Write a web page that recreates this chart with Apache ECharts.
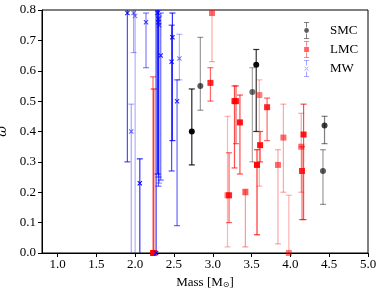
<!DOCTYPE html>
<html>
<head>
<meta charset="utf-8">
<script src="https://cdn.jsdelivr.net/npm/echarts@6/dist/echarts.min.js"></script>
<style>html,body{margin:0;padding:0;background:#fff}#c{width:382px;height:291px}</style>
</head>
<body>
<div id="c"></div>
<script>
// ---- data ----
const smcMass  = [2.73, 2.84, 3.51, 3.56, 4.44, 4.42];
const smcOmega = [0.40, 0.55, 0.53, 0.62, 0.42, 0.27];
const smcLow   = [0.29, 0.47, 0.30, 0.40, 0.36, 0.16];
const smcHigh  = [0.54, 0.71, 0.61, 0.67, 0.45, 0.34];
const smcAlpha = [0.85, 0.4, 0.35, 0.8, 0.5, 0.4];

const lmcMass  = [2.23, 2.24, 2.99, 2.97, 3.19, 3.21, 3.28, 3.30, 3.35, 3.42, 3.60, 3.57, 3.61, 3.70, 3.91, 3.84, 3.98, 4.14, 4.17, 4.15];
const lmcOmega = [0.00, 0.00, 0.79, 0.56, 0.19, 0.19, 0.50, 0.50, 0.43, 0.20, 0.52, 0.29, 0.355, 0.48, 0.38, 0.29, 0.00, 0.35, 0.39, 0.27];
const lmcLow   = [-0.05, -0.05, 0.63, 0.50, 0.02, 0.10, 0.28, 0.36, 0.26, 0.02, 0.22, 0.06, 0.30, 0.37, 0.20, 0.03, -0.05, 0.20, 0.11, 0.11];
const lmcHigh  = [0.58, 0.54, 0.85, 0.61, 0.45, 0.33, 0.55, 0.55, 0.52, 0.21, 0.57, 0.34, 0.40, 0.51, 0.49, 0.34, 0.19, 0.46, 0.49, 0.35];
const lmcAlpha = [0.6, 0.8, 0.35, 0.6, 0.3, 0.6, 0.7, 0.6, 0.7, 0.4, 0.3, 0.8, 0.7, 0.6, 0.35, 0.35, 0.3, 0.35, 0.7, 0.6];

const mwMass  = [1.90, 1.98, 2.00, 1.95, 2.14, 2.06, 2.29, 2.30, 2.30, 2.31, 2.33, 2.27, 2.48, 2.47, 2.57, 2.54];
const mwOmega = [0.79, 0.79, 0.78, 0.40, 0.76, 0.23, 0.79, 0.77, 0.76, 0.75, 0.65, 0.00, 0.71, 0.63, 0.64, 0.50];
const mwLow   = [0.30, 0.66, -0.05, -0.05, 0.61, -0.05, 0.26, 0.25, 0.22, 0.23, 0.24, -0.05, 0.37, 0.27, 0.57, 0.09];
const mwHigh  = [0.85, 0.85, 0.85, 0.49, 0.79, 0.31, 0.85, 0.85, 0.80, 0.78, 0.79, 0.85, 0.79, 0.75, 0.72, 0.57];
const mwAlpha = [0.7, 0.35, 0.3, 0.35, 0.5, 0.8, 0.8, 0.6, 0.6, 0.4, 0.6, 0.8, 0.8, 0.7, 0.3, 0.6];

const xTicks = [1.0, 1.5, 2.0, 2.5, 3.0, 3.5, 4.0, 4.5, 5.0];

// ---- helpers ----
const FONT = 'Liberation Serif';
function errData(m, lo, hi, a) { return m.map((v, i) => [v, lo[i], hi[i], a[i]]); }
function ptData(m, w, a) {
  return m.map((v, i) => ({ value: [v, w[i]], itemStyle: { opacity: 1 - Math.pow(1 - a[i], 2) } }));
}
function errRender(color) {
  return function (params, api) {
    const x = api.value(0), lo = api.value(1), hi = api.value(2), a = api.value(3);
    const p1 = api.coord([x, lo]), p2 = api.coord([x, hi]);
    const cw = 3;
    const style = { stroke: color, lineWidth: 1.2, opacity: a, fill: null };
    return {
      type: 'group',
      children: [
        { type: 'line', shape: { x1: p1[0], y1: p1[1], x2: p2[0], y2: p2[1] }, style: style },
        { type: 'line', shape: { x1: p1[0] - cw, y1: p1[1], x2: p1[0] + cw, y2: p1[1] }, style: style },
        { type: 'line', shape: { x1: p2[0] - cw, y1: p2[1], x2: p2[0] + cw, y2: p2[1] }, style: style }
      ]
    };
  };
}
const barPart = 'M2 0 H8 V0.8 H2 Z M4.55 0.8 H5.45 V6.5 H4.55 Z M4.55 13.5 H5.45 V19.2 H4.55 Z M2 19.2 H8 V20 H2 Z ';
const iconSMC = 'path://' + barPart + 'M2.2 10 A2.8 2.8 0 1 1 7.8 10 A2.8 2.8 0 1 1 2.2 10 Z';
const iconLMC = 'path://' + barPart + 'M2.2 7.2 H7.8 V12.8 H2.2 Z';
const iconMW  = 'path://' + barPart + 'M2.5 8 L3 7.5 L7.5 12 L7 12.5 Z M2.5 12 L3 12.5 L7.5 8 L7 7.5 Z';
const xSym = 'path://M0 1.5 L1.5 0 L10 8.5 L8.5 10 Z M1.5 10 L0 8.5 L8.5 0 L10 1.5 Z';

const chart = echarts.init(document.getElementById('c'), null, { renderer: 'canvas' });
chart.setOption({
  animation: false,
  backgroundColor: '#fff',
  textStyle: { fontFamily: FONT },
  grid: { left: 42, right: 14, top: 10, bottom: 38, show: true, borderColor: '#000', borderWidth: 1, outerBoundsMode: 'none', containLabel: false },
  legend: {
    orient: 'vertical', left: 299, top: 17,
    itemWidth: 9, itemHeight: 17, itemGap: 2,
    textStyle: { fontFamily: FONT, fontSize: 13, color: '#000', padding: [0, 0, 0, 14] },
    data: [
      { name: 'SMC', icon: iconSMC, itemStyle: { color: '#333' } },
      { name: 'LMC', icon: iconLMC, itemStyle: { color: '#ff3b3b' } },
      { name: 'MW', icon: iconMW, itemStyle: { color: '#6e6eff' } }
    ]
  },
  xAxis: {
    type: 'value', min: 0.8, max: 5.0,
    name: 'Mass [M{s|⊙}]', nameLocation: 'middle', nameGap: 19,
    nameTextStyle: { fontFamily: FONT, fontSize: 13, color: '#000', rich: { s: { fontFamily: 'DejaVu Sans', fontSize: 8, color: '#000', verticalAlign: 'bottom', padding: [6, 0, 0, 0] } } },
    axisLine: { show: true, lineStyle: { color: '#000', width: 1 } },
    axisTick: { show: true, length: 4, lineStyle: { color: '#000' }, customValues: xTicks },
    axisLabel: { margin: 5, fontFamily: FONT, fontSize: 13, color: '#000', customValues: xTicks, formatter: v => v.toFixed(1) },
    splitLine: { show: false }
  },
  yAxis: {
    type: 'value', min: 0, max: 0.8, interval: 0.1,
    name: 'ω', nameLocation: 'middle', nameGap: 32, nameRotate: 90,
    nameTextStyle: { fontFamily: 'DejaVu Serif', fontStyle: 'italic', fontSize: 13, color: '#000' },
    axisLine: { show: true, lineStyle: { color: '#000', width: 1 } },
    axisTick: { show: true, length: 4, lineStyle: { color: '#000' } },
    axisLabel: { margin: 6, fontFamily: FONT, fontSize: 13, color: '#000', formatter: v => v.toFixed(1) },
    splitLine: { show: false }
  },
  series: [
    { name: 'SMC_err', type: 'custom', clip: true, renderItem: errRender('#000'), encode: { x: 0, y: [1, 2] }, data: errData(smcMass, smcLow, smcHigh, smcAlpha) },
    { name: 'SMC', type: 'scatter', symbol: 'circle', symbolSize: 6, itemStyle: { color: '#000' }, data: ptData(smcMass, smcOmega, smcAlpha) },
    { name: 'LMC_err', type: 'custom', clip: true, renderItem: errRender('#ff0000'), encode: { x: 0, y: [1, 2] }, data: errData(lmcMass, lmcLow, lmcHigh, lmcAlpha) },
    { name: 'LMC', type: 'scatter', symbol: 'rect', symbolSize: 6, itemStyle: { color: '#ff0000' }, data: ptData(lmcMass, lmcOmega, lmcAlpha) },
    { name: 'MW_err', type: 'custom', clip: true, renderItem: errRender('#0000ff'), encode: { x: 0, y: [1, 2] }, data: errData(mwMass, mwLow, mwHigh, mwAlpha) },
    { name: 'MW', type: 'scatter', symbol: xSym, symbolSize: 5, itemStyle: { color: '#0000ff' }, data: ptData(mwMass, mwOmega, mwAlpha) }
  ]
});
</script>
</body>
</html>
